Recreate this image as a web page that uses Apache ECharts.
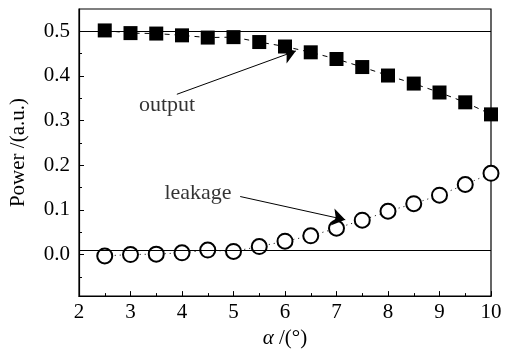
<!DOCTYPE html>
<html>
<head>
<meta charset="utf-8">
<script src="https://cdn.jsdelivr.net/npm/echarts@6/dist/echarts.min.js"></script>
<style>
  html, body { margin: 0; padding: 0; background: #fff; }
  #chart { width: 513px; height: 354px; }
</style>
</head>
<body>
<div id="chart"></div>
<script>
// 数据：入射角 α 与功率
const angles = [2.5, 3, 3.5, 4, 4.5, 5, 5.5, 6, 6.5, 7, 7.5, 8, 8.5, 9, 9.5, 10];
const outputPower = [0.502, 0.496, 0.495, 0.491, 0.486, 0.487, 0.476, 0.466, 0.453, 0.438, 0.420, 0.401, 0.383, 0.363, 0.341, 0.314];
const leakagePower = [-0.003, 0.000, 0.001, 0.004, 0.010, 0.007, 0.018, 0.030, 0.042, 0.059, 0.077, 0.097, 0.114, 0.133, 0.157, 0.182];
const yLabelValues = [0, 0.1, 0.2, 0.3, 0.4, 0.5];
const yMinorValues = [-0.05, 0.05, 0.15, 0.25, 0.35, 0.45];
const refLines = [0.5, 0.006];
// 注释：文字位置与箭头（数据坐标）
const notes = [
  { name: 'output', pos: [3.71, 0.334], from: [3.90, 0.359], to: [6.21, 0.456] },
  { name: 'leakage', pos: [4.31, 0.137], from: [5.13, 0.130], to: [7.17, 0.078] }
];

const serif = '"Liberation Serif", "DejaVu Serif", serif';
const yMin = -0.093, yMax = 0.55;

const chart = echarts.init(document.getElementById('chart'));

chart.setOption({
  animation: false,
  backgroundColor: '#fff',
  grid: {
    left: 79, right: 22, top: 9, bottom: 45,
    show: true, borderColor: '#000', borderWidth: 1.2
  },
  xAxis: {
    type: 'value',
    min: 2, max: 10, interval: 1,
    name: '{a|α} /(°)',
    nameLocation: 'middle',
    nameGap: 30,
    nameTextStyle: {
      fontFamily: serif, fontSize: 21, color: '#000',
      rich: { a: { fontFamily: serif, fontStyle: 'italic', fontSize: 21, color: '#000' } }
    },
    axisLine: { onZero: false, lineStyle: { color: '#000', width: 1.2 } },
    axisTick: { inside: true, length: 5, lineStyle: { color: '#000' } },
    minorTick: { show: true, splitNumber: 2, length: 3, lineStyle: { color: '#000' } },
    axisLabel: { fontFamily: serif, fontSize: 21, color: '#000', margin: 6 },
    splitLine: { show: false }
  },
  yAxis: [{
    type: 'value',
    min: yMin, max: yMax,
    name: 'Power /(a.u.)',
    nameLocation: 'middle',
    nameGap: 50,
    nameTextStyle: { fontFamily: serif, fontSize: 21, color: '#000' },
    axisLine: { show: true, onZero: false, lineStyle: { color: '#000', width: 1.2 } },
    axisTick: { inside: true, length: 5, customValues: yLabelValues, lineStyle: { color: '#000' } },
    axisLabel: {
      fontFamily: serif, fontSize: 21, color: '#000', margin: 9,
      customValues: yLabelValues,
      formatter: v => v.toFixed(1)
    },
    splitLine: { show: false }
  }, {
    type: 'value',
    min: yMin, max: yMax,
    position: 'left',
    axisLine: { show: false },
    axisTick: { show: true, inside: true, length: 3, customValues: yMinorValues, lineStyle: { color: '#000' } },
    axisLabel: { show: false },
    splitLine: { show: false }
  }],
  series: [{
    name: 'output',
    type: 'line',
    data: angles.map((a, i) => [a, outputPower[i]]),
    symbol: 'rect',
    symbolSize: 14,
    itemStyle: { color: '#000' },
    lineStyle: { color: '#000', width: 1, type: [5, 5] },
    z: 3,
    markLine: {
      silent: true,
      symbol: ['none', 'none'],
      label: { show: false },
      lineStyle: { color: '#000', width: 1, type: 'solid' },
      data: refLines.map(v => ({ yAxis: v }))
    }
  }, {
    name: 'leakage',
    type: 'line',
    data: angles.map((a, i) => [a, leakagePower[i]]),
    symbol: 'emptyCircle',
    symbolSize: 15,
    showAllSymbol: true,
    itemStyle: { color: '#000', borderColor: '#000', borderWidth: 1.3 },
    lineStyle: { color: '#000', width: 1, type: [1, 4] },
    z: 3
  }, {
    name: 'notes',
    type: 'scatter',
    symbolSize: 0,
    data: notes.map(n => ({ name: n.name, value: n.pos })),
    label: {
      show: true, position: 'inside', formatter: '{b}',
      fontFamily: serif, fontSize: 22, color: '#000'
    },
    z: 4
  }, {
    name: 'arrows',
    type: 'line',
    data: [],
    markLine: {
      silent: true,
      symbol: ['none', 'arrow'],
      symbolSize: 13,
      label: { show: false },
      itemStyle: { color: '#000' },
      lineStyle: { color: '#000', width: 1, type: 'solid' },
      data: notes.map(n => [{ coord: n.from }, { coord: n.to }])
    },
    z: 4
  }]
});
</script>
</body>
</html>
